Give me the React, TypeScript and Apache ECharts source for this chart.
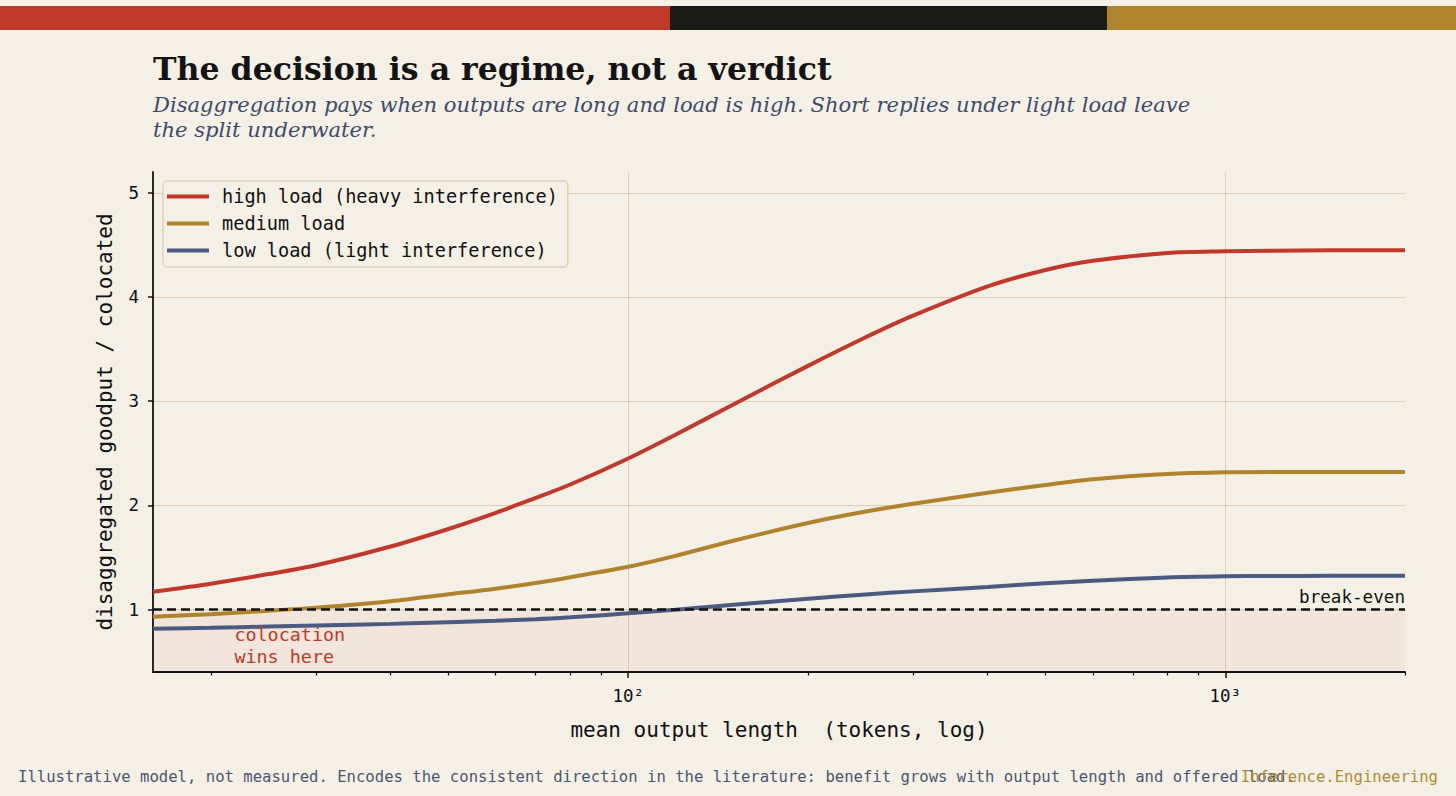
import { useEffect, useRef } from "react";
import * as echarts from "echarts";

// Mean output length (tokens), sampled on a log grid
const tokens = [16, 20, 25, 30, 40, 50, 60, 70, 80, 100, 120, 150, 200, 250, 300, 400, 500, 600, 800, 1000, 1200, 1500, 2000];

// Disaggregated goodput / colocated goodput, per load regime
const highLoad = [1.17, 1.248, 1.34, 1.425, 1.605, 1.773, 1.928, 2.072, 2.2, 2.45, 2.678, 2.968, 3.339, 3.614, 3.821, 4.102, 4.259, 4.348, 4.423, 4.439, 4.445, 4.448, 4.45];
const mediumLoad = [0.93, 0.955, 0.988, 1.018, 1.08, 1.146, 1.2, 1.255, 1.31, 1.41, 1.515, 1.66, 1.83, 1.94, 2.015, 2.12, 2.196, 2.25, 2.3, 2.317, 2.32, 2.32, 2.32];
const lowLoad = [0.815, 0.825, 0.836, 0.846, 0.862, 0.878, 0.892, 0.906, 0.925, 0.963, 0.998, 1.045, 1.104, 1.145, 1.174, 1.217, 1.252, 1.277, 1.308, 1.319, 1.322, 1.323, 1.323];

const seriesNames = ["high load (heavy interference)", "medium load", "low load (light interference)"];
const seriesColors = ["#c0392b", "#b0832d", "#4a5a80"];

const yTicks = [1, 2, 3, 4, 5];
const xMajorTicks = [100, 1000];
const xMinorTicks = [20, 30, 40, 50, 60, 70, 80, 90, 200, 300, 400, 500, 600, 700, 800, 900, 2000];
const xRange = [16, 2000];
const yRange = [0.4, 5.2];
const breakEven = 1;
const annotationPoint = [21.9, 0.655];

const MONO = "'DejaVu Sans Mono', monospace";
const SERIF = "'DejaVu Serif', serif";
const BG = "#f5f0e6";
const INK = "#111111";
const GRID = "#ddcfb6";

const SUPERSCRIPT: Record<string, string> = { "0": "⁰", "1": "¹", "2": "²", "3": "³", "4": "⁴", "5": "⁵", "6": "⁶", "7": "⁷", "8": "⁸", "9": "⁹" };
const powerLabel = (v: number) =>
  "10" + String(Math.round(Math.log10(v))).split("").map((c) => SUPERSCRIPT[c] || c).join("");

export default function App() {
  const ref = useRef<HTMLDivElement>(null);

  useEffect(() => {
    document.body.style.margin = "0";
    document.body.style.background = BG;
    const chart = echarts.init(ref.current!, undefined, { renderer: "svg" });
    const gridBox = { left: 153, right: 51, top: 172, bottom: 124, containLabel: false };
    const curves = [highLoad, mediumLoad, lowLoad];

    chart.setOption({
      animation: false,
      backgroundColor: BG,
      grid: [gridBox, { ...gridBox }],
      legend: {
        data: seriesNames,
        orient: "vertical",
        left: 163,
        top: 181,
        padding: [6, 10, 7, 4],
        itemGap: 8,
        itemWidth: 42,
        itemHeight: 4,
        icon: "rect",
        backgroundColor: "rgba(245,240,230,0.9)",
        borderColor: "#ddd0b8",
        borderWidth: 1.5,
        borderRadius: 4,
        textStyle: { fontFamily: MONO, fontSize: 18.6, color: INK, lineHeight: 19, padding: [0, 0, 0, 8] },
      },
      xAxis: [
        {
          type: "log",
          logBase: 10,
          gridIndex: 0,
          min: xRange[0],
          max: xRange[1],
          axisLine: { show: true, lineStyle: { color: INK, width: 1.8 } },
          axisTick: { show: true, customValues: xMajorTicks, length: 6, lineStyle: { color: INK, width: 1.5 } },
          axisLabel: {
            customValues: xMajorTicks,
            formatter: (v: number) => powerLabel(v),
            fontFamily: MONO,
            fontSize: 17.5,
            color: INK,
            margin: 15,
          },
          minorTick: { show: false },
          splitLine: { show: true, lineStyle: { color: GRID, width: 1 } },
          name: "mean output length  (tokens, log)",
          nameLocation: "middle",
          nameGap: 47,
          nameTextStyle: { fontFamily: MONO, fontSize: 21, color: INK },
        },
        {
          type: "log",
          logBase: 10,
          gridIndex: 1,
          min: xRange[0],
          max: xRange[1],
          axisLine: { show: false },
          axisTick: { show: true, customValues: xMinorTicks, length: 3.5, lineStyle: { color: INK, width: 1.2 } },
          axisLabel: { show: false },
          splitLine: { show: false },
        },
      ],
      yAxis: [
        {
          type: "value",
          gridIndex: 0,
          min: yRange[0],
          max: yRange[1],
          axisLine: { show: true, lineStyle: { color: INK, width: 1.8 } },
          axisTick: { show: true, customValues: yTicks, length: 5, lineStyle: { color: INK, width: 1.5 } },
          axisLabel: { customValues: yTicks, fontFamily: MONO, fontSize: 17.5, color: INK, margin: 14 },
          splitLine: { show: true, lineStyle: { color: GRID, width: 1 } },
          name: "disaggregated goodput / colocated",
          nameLocation: "middle",
          nameGap: 38,
          nameTextStyle: { fontFamily: MONO, fontSize: 21, color: INK },
        },
        { type: "value", gridIndex: 1, min: yRange[0], max: yRange[1], show: false },
      ],
      series: [
        // shaded "colocation wins" band below break-even, with its caption
        {
          type: "line",
          xAxisIndex: 0,
          yAxisIndex: 0,
          data: [],
          z: 1,
          silent: true,
          markArea: {
            silent: true,
            itemStyle: { color: "rgba(192,57,43,0.055)" },
            data: [[{ yAxis: yRange[0] }, { yAxis: breakEven }]],
          },
          markPoint: {
            silent: true,
            symbol: "circle",
            symbolSize: 0,
            data: [
              {
                coord: annotationPoint,
                label: {
                  show: true,
                  position: "right",
                  distance: 0,
                  formatter: "colocation\nwins here",
                  fontFamily: MONO,
                  fontSize: 18.4,
                  lineHeight: 22,
                  color: "#c0392b",
                  align: "left",
                },
              },
            ],
          },
        },
        ...curves.map((vals, k) => ({
          name: seriesNames[k],
          type: "line",
          xAxisIndex: 0,
          yAxisIndex: 0,
          data: tokens.map((t, i) => [t, vals[i]]),
          smooth: 0.3,
          symbol: "none",
          showSymbol: false,
          z: 3,
          itemStyle: { color: seriesColors[k] },
          lineStyle: { color: seriesColors[k], width: 4 },
        })),
        // break-even reference at ratio 1
        {
          name: "break-even",
          type: "line",
          xAxisIndex: 0,
          yAxisIndex: 0,
          data: [
            [xRange[0], breakEven],
            [xRange[1], breakEven],
          ],
          symbol: "none",
          showSymbol: false,
          z: 5,
          silent: true,
          lineStyle: { color: INK, width: 2.4, type: [9, 5] },
          endLabel: {
            show: true,
            formatter: "break-even",
            fontFamily: MONO,
            fontSize: 17.6,
            color: INK,
            align: "right",
            verticalAlign: "bottom",
            distance: 0,
            offset: [0, -4],
          },
        },
      ],
      graphic: [
        { type: "rect", left: 0, top: 6, shape: { width: 670, height: 24 }, style: { fill: "#c0392b" } },
        { type: "rect", left: 670, top: 6, shape: { width: 437, height: 24 }, style: { fill: "#1a1b17" } },
        { type: "rect", left: 1107, top: 6, shape: { width: 349, height: 24 }, style: { fill: "#b0832d" } },
        {
          type: "text",
          x: 153,
          y: 52,
          style: {
            text: "The decision is a regime, not a verdict",
            font: `bold 31.6px ${SERIF}`,
            fill: "#141414",
            verticalAlign: "top",
          },
        },
        {
          type: "text",
          x: 153,
          y: 92,
          style: {
            text: "Disaggregation pays when outputs are long and load is high. Short replies under light load leave\nthe split underwater.",
            font: `italic 21.1px ${SERIF}`,
            lineHeight: 25,
            fill: "#3d4a6b",
            verticalAlign: "top",
          },
        },
        {
          type: "text",
          x: 18,
          y: 777,
          style: {
            text: "Illustrative model, not measured. Encodes the consistent direction in the literature: benefit grows with output length and offered load.",
            font: `15.6px ${MONO}`,
            fill: "#4a5570",
            verticalAlign: "middle",
          },
        },
        {
          type: "text",
          x: 1438,
          y: 777,
          style: {
            text: "Inference.Engineering",
            font: `15.6px ${MONO}`,
            fill: "#b08a2e",
            align: "right",
            verticalAlign: "middle",
          },
        },
      ],
    });

    return () => chart.dispose();
  }, []);

  return <div ref={ref} style={{ width: 1456, height: 796 }} />;
}
